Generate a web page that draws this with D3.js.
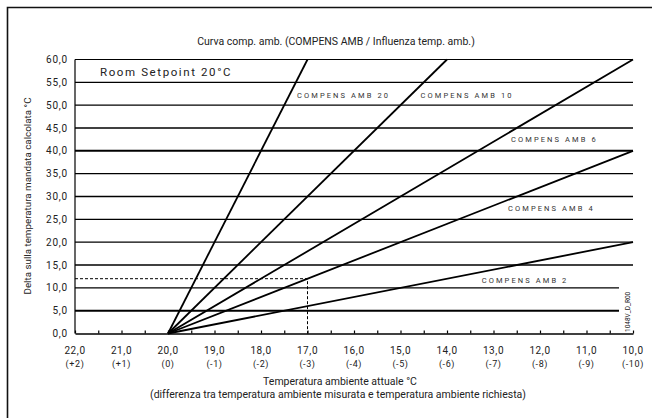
<!DOCTYPE html>
<html>
<head>
<meta charset="utf-8">
<script src="https://cdn.jsdelivr.net/npm/d3@7"></script>
<style>
  body { margin: 0; background: #fff; }
  svg { display: block; }
  text { font-family: Roboto, "Liberation Sans", sans-serif; fill: #222; }
</style>
</head>
<body>
<div id="chart"></div>
<script>
// chart values
var xTemps = [22, 21, 20, 19, 18, 17, 16, 15, 14, 13, 12, 11, 10];
var xDeltaLabels = ['(+2)', '(+1)', '(0)', '(-1)', '(-2)', '(-3)', '(-4)', '(-5)', '(-6)', '(-7)', '(-8)', '(-9)', '(-10)'];
var yTicks = [0, 5, 10, 15, 20, 25, 30, 35, 40, 45, 50, 55, 60];
var curveNames = ['COMPENS AMB 2', 'COMPENS AMB 4', 'COMPENS AMB 6', 'COMPENS AMB 10', 'COMPENS AMB 20'];
var curveStart = [20, 0];
var curveEndTemp = [10, 10, 10, 14, 17];
var curveEndDelta = [20, 40, 60, 60, 60];
var exampleTemp = 17;
var exampleDelta = 12;

var width = 652;
var height = 418;

var svg = d3.select('#chart')
  .append('svg')
  .attr('width', width)
  .attr('height', height);

var x = d3.scaleLinear().domain([22, 10]).range([75, 633]);
var y = d3.scaleLinear().domain([0, 60]).range([333.5, 59.5]);

function fmt (v) {
  return v.toFixed(1).replace('.', ',');
}

// outer frame (runs off the right and bottom edges)
svg.append('path')
  .attr('d', 'M7.5,' + height + 'V7.5H' + width)
  .attr('fill', 'none')
  .attr('stroke', '#111')
  .attr('stroke-width', 1.6);

// title
svg.append('text')
  .attr('x', 336)
  .attr('y', 45)
  .attr('text-anchor', 'middle')
  .style('font-size', '10.5px')
  .text('Curva comp. amb. (COMPENS AMB / Influenza temp. amb.)');

// horizontal grid lines
svg.selectAll('.grid')
  .data(yTicks.filter(function (d) { return d > 0; }))
  .enter()
  .append('line')
  .attr('class', 'grid')
  .attr('x1', x(22))
  .attr('x2', function (d) { return d <= 10 ? 619 : x(10); })
  .attr('y1', function (d) { return y(d); })
  .attr('y2', function (d) { return y(d); })
  .attr('stroke', '#000')
  .attr('stroke-width', function (d) {
    if (d === 60) return 1;
    if (d === 40 || d === 5) return 2;
    return 1.4;
  });

// y axis line
svg.append('line')
  .attr('x1', x(22)).attr('x2', x(22))
  .attr('y1', y(60)).attr('y2', y(0))
  .attr('stroke', '#000')
  .attr('stroke-width', 1.2);

// y tick labels
svg.selectAll('.ylab')
  .data(yTicks)
  .enter()
  .append('text')
  .attr('class', 'ylab')
  .attr('x', 68)
  .attr('y', function (d) { return y(d) + 3.5; })
  .attr('text-anchor', 'end')
  .style('font-size', '10px')
  .style('letter-spacing', '0.8px')
  .text(fmt);

// x axis with half-degree ticks pointing up
var halfTicks = d3.range(10, 22.01, 0.5);
var xAxis = svg.append('g')
  .attr('transform', 'translate(0,' + y(0) + ')')
  .call(d3.axisBottom(x).tickValues(halfTicks).tickSize(-3).tickSizeOuter(0).tickFormat(''));
xAxis.select('.domain').attr('stroke-width', 1.6);
xAxis.selectAll('.tick line').attr('stroke-width', 1.2);

// x tick labels (two lines)
var xl = svg.selectAll('.xlab')
  .data(xTemps)
  .enter()
  .append('text')
  .attr('class', 'xlab')
  .attr('text-anchor', 'middle')
  .style('font-size', '10px')
  .style('letter-spacing', '0.6px');
xl.append('tspan')
  .attr('x', function (d) { return x(d); })
  .attr('y', 354)
  .text(fmt);
xl.append('tspan')
  .attr('x', function (d) { return x(d); })
  .attr('y', 367)
  .style('font-size', '9px')
  .text(function (d, i) { return xDeltaLabels[i]; });

// dashed example reading
svg.append('path')
  .attr('d', 'M' + x(22) + ',' + y(exampleDelta) + 'H' + x(exampleTemp) + 'V' + y(0))
  .attr('fill', 'none')
  .attr('stroke', '#000')
  .attr('stroke-width', 1)
  .attr('stroke-dasharray', '3,2');

// compensation curves
svg.selectAll('.curve')
  .data(curveNames)
  .enter()
  .append('line')
  .attr('class', 'curve')
  .attr('x1', x(curveStart[0]))
  .attr('y1', y(curveStart[1]))
  .attr('x2', function (d, i) { return x(curveEndTemp[i]); })
  .attr('y2', function (d, i) { return y(curveEndDelta[i]); })
  .attr('stroke', '#000')
  .attr('stroke-width', 1.8);

// curve labels
var labelPos = [[481.7, 282.7], [508, 211], [511, 141.5], [420.5, 97.5], [297, 97.5]];
svg.selectAll('.clab')
  .data(curveNames)
  .enter()
  .append('text')
  .attr('class', 'clab')
  .attr('x', function (d, i) { return labelPos[i][0]; })
  .attr('y', function (d, i) { return labelPos[i][1]; })
  .style('font-size', '7.5px')
  .style('letter-spacing', '2.1px')
  .style('fill', '#333')
  .text(function (d) { return d; });

svg.append('text')
  .attr('x', 100)
  .attr('y', 76)
  .style('font-size', '11.5px')
  .style('letter-spacing', '1.6px')
  .text('Room Setpoint 20°C');

// axis titles
svg.append('text')
  .attr('transform', 'translate(31,196) rotate(-90)')
  .attr('text-anchor', 'middle')
  .style('font-size', '9.8px')
  .text('Delta sulla temperatura mandata calcolata °C');

svg.append('text')
  .attr('x', 340)
  .attr('y', 385)
  .attr('text-anchor', 'middle')
  .style('font-size', '10.5px')
  .text('Temperatura ambiente attuale °C');

svg.append('text')
  .attr('x', 338)
  .attr('y', 398)
  .attr('text-anchor', 'middle')
  .style('font-size', '10.5px')
  .text('(differenza tra temperatura ambiente misurata e temperatura ambiente richiesta)');

// drawing code
svg.append('text')
  .attr('transform', 'translate(630,332) rotate(-90)')
  .style('font-size', '6.5px')
  .text('1048V_D_R00');
</script>
</body>
</html>
